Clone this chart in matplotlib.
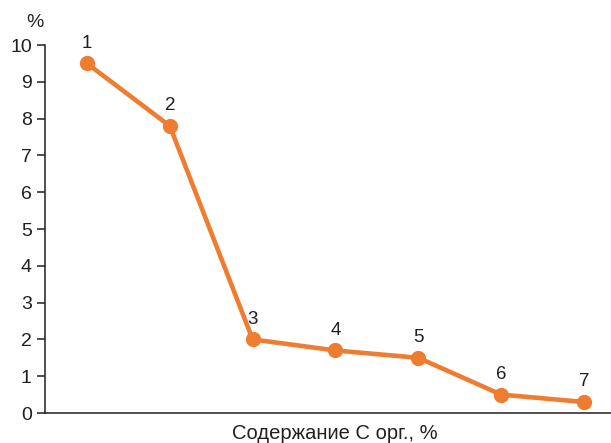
import matplotlib
matplotlib.use("Agg")
import matplotlib.pyplot as plt

plt.rcParams.update({
    "font.family": ["Liberation Sans", "DejaVu Sans"],
    "font.size": 13,
})

# data
points = [1, 2, 3, 4, 5, 6, 7]
values = [9.5, 7.8, 2.0, 1.7, 1.5, 0.5, 0.3]
point_labels = ["1", "2", "3", "4", "5", "6", "7"]
y_ticks = list(range(0, 11))

ORANGE = "#EE7D31"
INK = "#231F20"

fig = plt.figure(figsize=(6.11, 4.43), dpi=100)
ax = fig.add_axes([0.0736, 0.0677, 0.9264, 0.8307])

ax.plot(points, values, color=ORANGE, lw=3.3, marker="o", markersize=10,
        solid_capstyle="round", zorder=3, clip_on=False)

for x, y, lab in zip(points, values, point_labels):
    ax.annotate(lab, xy=(x, y), xytext=(0, 8.5), textcoords="offset points",
                ha="center", va="bottom", fontsize=13.5, color=INK)

ax.set_xlim(0.493, 7.326)
ax.set_ylim(0, 10)
ax.set_yticks(y_ticks)
ax.set_xticks([])

for side in ["top", "right"]:
    ax.spines[side].set_visible(False)
for side in ["left", "bottom"]:
    ax.spines[side].set_color(INK)
    ax.spines[side].set_linewidth(1.1)

ax.tick_params(axis="y", direction="out", length=5.5, width=1.1, color=INK,
               labelcolor=INK, pad=4, labelsize=14)

ax.set_xlabel("Содержание C орг., %", fontsize=14.5, color=INK, labelpad=8)
ax.xaxis.label.set_x(0.512)
ax.annotate("%", xy=(0, 1), xycoords="axes fraction", xytext=(-7, 10),
            textcoords="offset points", ha="center", va="bottom",
            fontsize=14, color=INK)

fig.savefig("out.png", dpi=100, facecolor="white")
